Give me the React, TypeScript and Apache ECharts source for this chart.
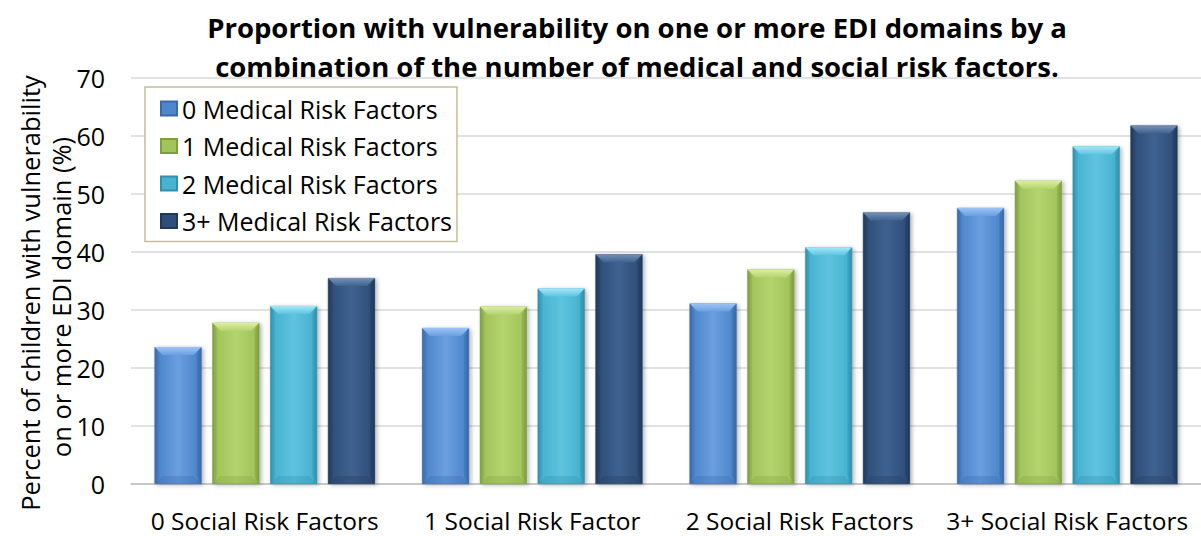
import React, { useEffect, useRef } from "react";
import * as echarts from "echarts";

const categories = [
  "0 Social Risk Factors",
  "1 Social Risk Factor",
  "2 Social Risk Factors",
  "3+ Social Risk Factors",
];
const seriesNames = [
  "0 Medical Risk Factors",
  "1 Medical Risk Factors",
  "2 Medical Risk Factors",
  "3+ Medical Risk Factors",
];
const med0 = [23.6, 26.9, 31.1, 47.6];
const med1 = [27.8, 30.6, 37.0, 52.3];
const med2 = [30.7, 33.7, 40.8, 58.2];
const med3 = [35.5, 39.6, 46.8, 61.8];
const yTicks = [0, 10, 20, 30, 40, 50, 60, 70];

const palette = [
  { base: "#4f87cc", light: "#6a9fe0", dark: "#3a6aa8", top: "#9cc4f5", bottom: "#3d6fae" },
  { base: "#a2c45c", light: "#b4d46e", dark: "#7f9f3f", top: "#dcefa2", bottom: "#86a745" },
  { base: "#48b3d1", light: "#5ec3df", dark: "#3290ad", top: "#a3e9fa", bottom: "#3596b3" },
  { base: "#2f4f7a", light: "#3f6290", dark: "#213a5c", top: "#7590b5", bottom: "#243f63" },
];

const FONT = "'Open Sans', sans-serif";
const BAR_W = 47;
const GAP_RATIO = 0.23;
const BEVEL = 8;

export default function App() {
  const ref = useRef<HTMLDivElement>(null);
  useEffect(() => {
    if (!ref.current) return;
    const chart = echarts.init(ref.current, undefined, { renderer: "svg" });
    const data = [med0, med1, med2, med3];
    const barSeries = data.map((d, i) => ({
      name: seriesNames[i],
      type: "bar" as const,
      data: d,
      barWidth: BAR_W,
      barGap: GAP_RATIO * 100 + "%",
      itemStyle: {
        color: new echarts.graphic.LinearGradient(0, 0, 1, 0, [
          { offset: 0, color: palette[i].dark },
          { offset: 0.1, color: palette[i].base },
          { offset: 0.5, color: palette[i].light },
          { offset: 0.9, color: palette[i].base },
          { offset: 1, color: palette[i].dark },
        ]),
        borderColor: palette[i].dark,
        borderWidth: 0.5,
        shadowColor: "rgba(0,0,0,0.3)",
        shadowBlur: 4,
        shadowOffsetX: 2,
        shadowOffsetY: 1,
      },
    }));
    const n = data.length;
    const bevelSeries = data.map((d, i) => ({
      name: seriesNames[i] + " bevel",
      type: "custom" as const,
      z: 5,
      silent: true,
      data: d.map((v, j) => [j, v]),
      renderItem: (params: any, api: any) => {
        const top = api.coord([api.value(0), api.value(1)]);
        const base = api.coord([api.value(0), 0]);
        const gap = BAR_W * GAP_RATIO;
        const total = n * BAR_W + (n - 1) * gap;
        const x0 = top[0] - total / 2 + i * (BAR_W + gap);
        const x1 = x0 + BAR_W;
        const yT = top[1];
        const yB = base[1];
        const b = BEVEL;
        return {
          type: "group",
          children: [
            {
              type: "polygon",
              shape: { points: [[x0, yT], [x1, yT], [x1 - b, yT + b], [x0 + b, yT + b]] },
              style: {
                fill: new echarts.graphic.LinearGradient(0, 0, 0, 1, [
                  { offset: 0, color: palette[i].top },
                  { offset: 1, color: palette[i].light },
                ]),
              },
            },
            {
              type: "polygon",
              shape: { points: [[x0, yB], [x1, yB], [x1 - b, yB - b], [x0 + b, yB - b]] },
              style: { fill: palette[i].bottom, opacity: 0.35 },
            },
            {
              type: "polygon",
              shape: { points: [[x0, yT], [x0 + b * 0.6, yT + b], [x0 + b * 0.6, yB - b], [x0, yB]] },
              style: { fill: palette[i].dark, opacity: 0.2 },
            },
            {
              type: "polygon",
              shape: { points: [[x1, yT], [x1 - b * 0.6, yT + b], [x1 - b * 0.6, yB - b], [x1, yB]] },
              style: { fill: palette[i].dark, opacity: 0.4 },
            },
          ],
        };
      },
    }));
    chart.setOption({
      animation: false,
      backgroundColor: "#ffffff",
      textStyle: { fontFamily: FONT },
      title: {
        text:
          "Proportion with vulnerability on one or more EDI domains by a\ncombination of the number of medical and social risk factors.",
        left: 632,
        top: 3,
        textAlign: "center",
        textStyle: {
          fontFamily: FONT,
          fontWeight: "bold",
          fontSize: 27.5,
          lineHeight: 39,
          color: "#000000",
        },
      },
      legend: {
        orient: "vertical",
        left: 145,
        top: 87,
        data: seriesNames.map((nm, i) => ({
          name: nm,
          icon: "rect",
          itemStyle: { color: palette[i].base },
        })),
        itemWidth: 16,
        itemHeight: 14,
        itemGap: 12.5,
        padding: [9, 5, 8, 15],
        backgroundColor: "#ffffff",
        borderColor: "#c4bd97",
        borderWidth: 1.5,
        textStyle: {
          fontFamily: FONT,
          fontSize: 25,
          lineHeight: 25,
          color: "#000000",
        },
        itemTextGap: 8,
      },
      grid: { left: 131, right: 0, top: 78, bottom: 52, containLabel: false },
      xAxis: {
        type: "category",
        data: categories,
        axisLine: { lineStyle: { color: "#bfbfbf", width: 1.5 } },
        axisTick: { show: false },
        axisLabel: {
          fontFamily: FONT,
          fontSize: 24.5,
          color: "#000000",
          margin: 24,
          interval: 0,
        },
      },
      yAxis: {
        type: "value",
        min: yTicks[0],
        max: yTicks[yTicks.length - 1],
        interval: 10,
        axisLine: { show: false },
        axisTick: { show: false },
        splitLine: { lineStyle: { color: "#d9d9d9", width: 1.5 } },
        axisLabel: {
          fontFamily: FONT,
          fontSize: 25,
          color: "#000000",
          margin: 26,
        },
      },
      graphic: [
        {
          type: "text",
          x: 30,
          y: 293,
          rotation: Math.PI / 2,
          style: {
            text: "Percent of children with vulnerability",
            fontFamily: FONT,
            fontSize: 25.5,
            fill: "#000000",
            textAlign: "center",
            textVerticalAlign: "middle",
          },
        },
        {
          type: "text",
          x: 61,
          y: 297,
          rotation: Math.PI / 2,
          style: {
            text: "on or more EDI domain (%)",
            fontFamily: FONT,
            fontSize: 25.5,
            fill: "#000000",
            textAlign: "center",
            textVerticalAlign: "middle",
          },
        },
      ],
      series: [...barSeries, ...bevelSeries],
    });
    return () => chart.dispose();
  }, []);
  return (
    <div
      ref={ref}
      style={{ position: "fixed", left: 0, top: 0, width: 1201, height: 536 }}
    />
  );
}
